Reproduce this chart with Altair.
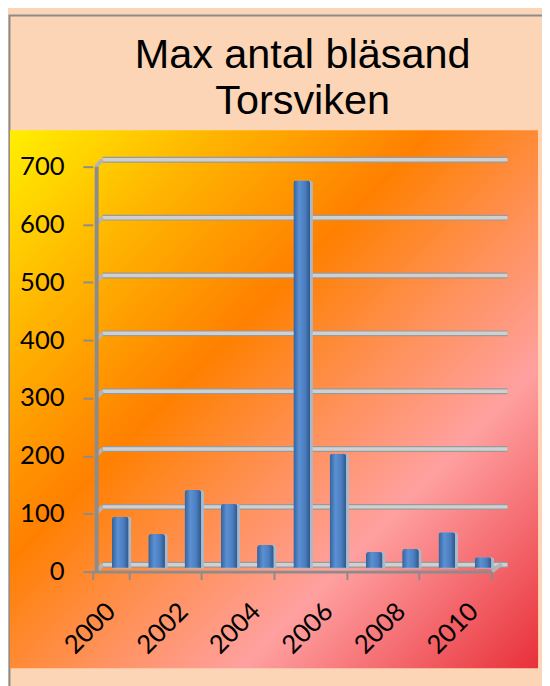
import altair as alt
import pandas as pd

# ---- data ----
years = ["2000", "2001", "2002", "2003", "2004", "2005",
         "2006", "2007", "2008", "2009", "2010"]
counts = [95, 65, 141, 117, 46, 676, 204, 34, 39, 68, 25]
y_ticks = [0, 100, 200, 300, 400, 500, 600, 700]
x_label_years = ["2000", "2002", "2004", "2006", "2008", "2010"]
title_lines = ["Max antal bläsand", "Torsviken"]

W, H = 405, 411
df = pd.DataFrame({"year": years, "count": counts})
grid_df = pd.DataFrame({"v": y_ticks})
one = pd.DataFrame({"k": [0]})

yscale = alt.Scale(domain=[0, 700], nice=False, zero=True)
xscale = alt.Scale(paddingInner=0, paddingOuter=0)

bg_grad = alt.LinearGradient(
    gradient="linear", x1=0, y1=0, x2=1, y2=1,
    stops=[
        alt.GradientStop(color="#ffef00", offset=0.0),
        alt.GradientStop(color="#ffb400", offset=0.2),
        alt.GradientStop(color="#ff8000", offset=0.4),
        alt.GradientStop(color="#ff9055", offset=0.56),
        alt.GradientStop(color="#ffa0a0", offset=0.72),
        alt.GradientStop(color="#e8303a", offset=1.0),
    ],
)
bar_grad = alt.LinearGradient(
    gradient="linear", x1=0, y1=0, x2=1, y2=0,
    stops=[
        alt.GradientStop(color="#33629b", offset=0.0),
        alt.GradientStop(color="#5b90d3", offset=0.35),
        alt.GradientStop(color="#4a7ec0", offset=0.7),
        alt.GradientStop(color="#2f5688", offset=1.0),
    ],
)

frame = alt.Chart(one).mark_rect(fill="#fbd5b5", stroke="#8c8c8c", strokeWidth=2).encode(
    x=alt.value(-84.5), x2=alt.value(W + 80), y=alt.value(-153.5), y2=alt.value(H + 130)
)
background = alt.Chart(one).mark_rect(fill=bg_grad).encode(
    x=alt.value(-84), x2=alt.value(452), y=alt.value(-37), y2=alt.value(509)
)
title = alt.Chart(one).mark_text(
    text=title_lines, font="Liberation Sans", fontSize=42, color="black",
    align="center", baseline="alphabetic", lineHeight=47,
).encode(x=alt.value(213), y=alt.value(-100))

grid_dark = alt.Chart(grid_df).mark_rule(color="#9a9a9a", strokeWidth=6, yOffset=-7).encode(
    y=alt.Y("v:Q", scale=yscale), x=alt.value(10), x2=alt.value(421)
)
grid_light = alt.Chart(grid_df).mark_rule(color="#d0d0d0", strokeWidth=3.5, yOffset=-7).encode(
    y=alt.Y("v:Q", scale=yscale), x=alt.value(10), x2=alt.value(421)
)
connectors = alt.Chart(grid_df).mark_rule(color="#b4b4b4", strokeWidth=4, y2Offset=-7).encode(
    y=alt.Y("v:Q", scale=yscale), y2="v:Q", x=alt.value(3), x2=alt.value(10)
)
floor_end = alt.Chart(one).mark_rule(color="#b4b4b4", strokeWidth=4, y2Offset=-8).encode(
    y=alt.datum(0, scale=yscale), y2=alt.datum(0), x=alt.value(W), x2=alt.value(W + 10)
)
wall_edge = alt.Chart(one).mark_rule(color="#8c8c8c", strokeWidth=4).encode(
    x=alt.value(4), y=alt.datum(0, scale=yscale), y2=alt.datum(700)
)

xenc = alt.X(
    "year:O", scale=xscale, sort=years,
    axis=alt.Axis(
        title=None, values=x_label_years, labelAngle=-45, labelAlign="right",
        labelBaseline="middle", labelFont="Lato", labelFontSize=26, labelColor="black",
        labelPadding=28, tickBand="extent", tickSize=8, tickWidth=2, tickColor="#8c8c8c",
        domainColor="#8c8c8c", domainWidth=3, grid=False, zindex=1,
    ),
)
yenc = alt.Y(
    "count:Q", scale=yscale,
    axis=alt.Axis(
        title=None, values=y_ticks, domain=False, tickSize=10, tickWidth=2,
        tickColor="#8c8c8c", labelFont="Lato", labelFontSize=26, labelColor="black",
        labelPadding=19, grid=False, zindex=1,
    ),
)

bar_shadow = alt.Chart(df).mark_bar(
    fill="#a9b9cc", size=19, xOffset=11.5, yOffset=-3, y2Offset=-3, cornerRadiusEnd=3
).encode(x=xenc, y=yenc)
bars = alt.Chart(df).mark_bar(
    fill=bar_grad, size=17, xOffset=9.6, yOffset=-4, y2Offset=-4, cornerRadiusEnd=3
).encode(x=xenc, y=yenc)

chart = alt.layer(
    frame, background, title, grid_dark, grid_light, connectors, floor_end, wall_edge,
    bar_shadow, bars,
).properties(
    width=W, height=H,
    autosize=alt.AutoSizeParams(type="none"),
    padding={"left": 86, "top": 156, "right": 51, "bottom": 111},
).configure(background="#fbd5b5").configure_view(stroke=None)

chart.save("out.html", embed_options={"renderer": "svg", "actions": False})
